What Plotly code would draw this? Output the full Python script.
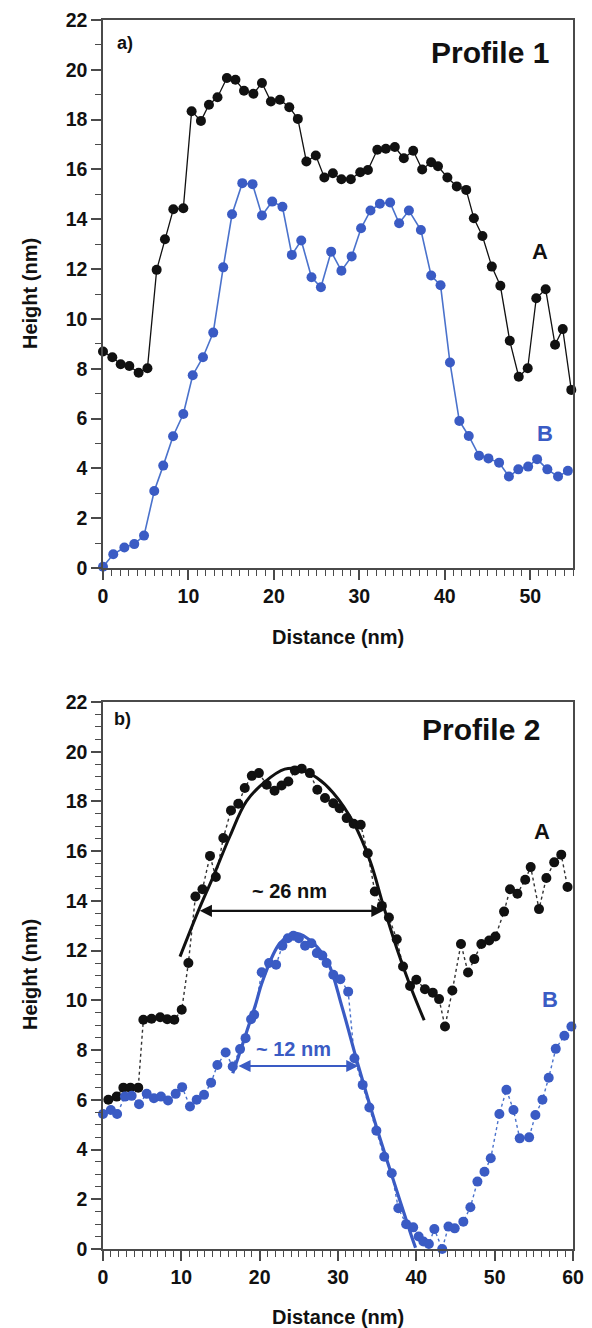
import plotly.graph_objects as go

# ---------------- data ----------------
# Profile 1
p1_a_x = [0, 1.09, 2.07, 3.08, 4.17, 5.2, 6.28, 7.25, 8.23, 9.4, 10.37, 11.46, 12.4, 13.4, 14.5,
          15.5, 16.5, 17.6, 18.6, 19.65, 20.7, 21.8, 22.8, 23.8, 24.9, 25.9, 26.9, 27.9, 29.0, 30.1,
          31.0, 32.1, 33.1, 34.15, 35.2, 36.3, 37.35, 38.4, 39.2, 40.3, 41.4, 42.5, 43.4, 44.4, 45.5,
          46.5, 47.6, 48.65, 49.7, 50.7, 51.8, 52.9, 53.8, 54.8]
p1_a_y = [8.69, 8.46, 8.18, 8.11, 7.84, 8.02, 11.97, 13.2, 14.4, 14.44, 18.34, 17.95, 18.6, 18.9, 19.67,
          19.6, 19.16, 19.04, 19.47, 18.73, 18.8, 18.5, 18.03, 16.32, 16.56, 15.68, 15.85, 15.61, 15.61, 15.89,
          15.98, 16.79, 16.83, 16.9, 16.45, 16.75, 16.0, 16.29, 16.13, 15.68, 15.32, 15.18, 14.04, 13.33, 12.1,
          11.33, 9.12, 7.68, 8.02, 10.83, 11.19, 8.96, 9.59, 7.15]
p1_b_x = [0, 1.2, 2.5, 3.66, 4.8, 6.0, 7.05, 8.2, 9.4, 10.5, 11.7, 12.9,
          14.07, 15.1, 16.3, 17.5, 18.6, 19.8, 21.0, 22.1, 23.2, 24.4, 25.5,
          26.7, 27.9, 29.1, 30.2, 31.3, 32.4, 33.6, 34.65, 35.8, 37.2, 38.4, 39.5,
          40.6, 41.7, 42.8, 44.0, 45.1, 46.35, 47.5, 48.6, 49.75, 50.8, 52.0, 53.25, 54.4]
p1_b_y = [0.05, 0.55, 0.82, 0.96, 1.3, 3.09, 4.11, 5.29, 6.18, 7.74, 8.46, 9.45,
          12.07, 14.2, 15.45, 15.41, 14.15, 14.71, 14.5, 12.57, 13.15, 11.67, 11.27,
          12.7, 11.93, 12.51, 13.64, 14.35, 14.62, 14.67, 13.84, 14.35, 13.57, 11.74, 11.35,
          8.25, 5.9, 5.3, 4.51, 4.4, 4.23, 3.67, 3.96, 4.07, 4.37, 3.96, 3.67, 3.9]

# Profile 2
p2_a_x = [0.68, 1.75, 2.6, 3.5, 4.5, 5.15, 6.2, 7.3, 8.2, 9.1, 10.05, 10.9, 11.8, 12.7, 13.66,
          14.4, 15.36, 16.34, 17.27, 18.1, 19.0, 19.9, 20.9, 21.9, 22.8, 23.66, 24.5, 25.37, 26.4, 27.36,
          28.34, 29.4, 30.2, 31.1, 32.0, 32.9, 33.8, 34.7, 35.6, 36.5, 37.5, 38.3, 39.2, 40.0, 41.1,
          42.1, 42.9, 43.66, 44.6, 45.7, 46.6, 47.4, 48.3, 49.3, 50.1, 51.2, 51.96, 52.9, 53.9, 54.6,
          55.66, 56.6, 57.6, 58.5, 59.3]
p2_a_y = [6.0, 6.13, 6.49, 6.49, 6.49, 9.22, 9.26, 9.32, 9.24, 9.22, 9.62, 11.5, 14.18, 14.47, 15.81,
          14.96, 16.53, 17.64, 17.91, 18.54, 19.03, 19.14, 18.67, 18.43, 18.64, 18.8, 19.25, 19.32, 19.14, 18.47,
          18.14, 17.93, 17.73, 17.33, 17.1, 17.06, 15.92, 14.38, 13.8, 13.33, 12.46, 11.36, 10.58, 10.83, 10.45,
          10.31, 10.05, 8.95, 10.4, 12.27, 11.12, 11.66, 12.27, 12.41, 12.57, 13.57, 14.47, 14.29, 14.85, 15.36,
          13.67, 14.92, 15.55, 15.86, 14.56]
p2_b_x = [0, 1.0, 1.8, 2.8, 3.66, 4.6, 5.58, 6.5, 7.4, 8.3, 9.28, 10.1, 11.1, 11.96, 12.9,
          13.8, 14.6, 15.66, 16.56, 17.5, 18.2, 18.9, 19.3, 20.26, 21.2, 22.1, 22.9, 23.6, 24.3, 25.0,
          25.8, 26.6, 27.3, 28.0, 28.55, 29.4, 30.3, 31.3, 32.1, 33.15, 34.0, 34.9, 35.9, 36.86, 37.7,
          38.7, 39.6, 40.3, 40.9, 41.6, 42.3, 43.3, 44.1, 44.9, 46.0, 46.9, 47.8, 48.7, 49.5, 50.6,
          51.5, 52.4, 53.2, 54.4, 55.2, 56.1, 56.9, 57.8, 58.9, 59.8]
p2_b_y = [5.43, 5.59, 5.43, 6.13, 6.16, 5.82, 6.24, 6.06, 6.13, 5.97, 6.24, 6.51, 5.73, 6.0, 6.2,
          6.69, 7.4, 7.9, 7.34, 8.04, 8.48, 9.24, 9.42, 11.13, 11.5, 11.43, 12.2, 12.5, 12.6, 12.5,
          12.2, 12.3, 11.9, 11.8, 11.5, 11.03, 10.85, 10.35, 7.67, 6.6, 5.69, 4.76, 3.71, 3.05, 1.64,
          1.0, 0.87, 0.5, 0.3, 0.2, 0.8, 0.0, 0.9, 0.83, 1.1, 1.68, 2.71, 3.11, 3.65, 5.43,
          6.4, 5.59, 4.45, 4.49, 5.39, 6.0, 6.89, 8.05, 8.58, 8.95]

# fitted envelope curves
fit_a_x = [9.83, 12.17, 14.1, 16.2, 18.3, 20.7, 23.2, 25.1, 27.3, 29.4, 32.0, 34.1, 35.8, 37.5, 39.2, 41.0]
fit_a_y = [11.76, 13.6, 15.0, 16.6, 18.0, 18.8, 19.3, 19.3, 18.95, 18.34, 17.13, 15.6, 13.8, 12.1, 10.6, 9.2]
fit_b_x = [16.56, 17.3, 18.35, 19.4, 20.4, 22.6, 24.7, 26.85, 28.75, 30.5, 32.6, 34.9, 37.06, 39.4, 39.9]
fit_b_y = [7.07, 7.74, 8.75, 9.75, 10.8, 12.3, 12.7, 12.3, 11.5, 9.75, 7.36, 4.92, 2.78, 0.5, 0.05]

# width arrows: [x_start, x_end], height, label
arrow_a = ([12.17, 35.8], 13.6, "~ 26 nm")
arrow_b = ([17.1, 32.6], 7.36, "~ 12 nm")

x_ticks_1 = [0, 10, 20, 30, 40, 50]
x_ticks_2 = [0, 10, 20, 30, 40, 50, 60]
y_ticks = [0, 2, 4, 6, 8, 10, 12, 14, 16, 18, 20, 22]

# ---------------- styling ----------------
W, H = 592, 1328
BLACK = "#111111"
BLUE = "#3a5bc4"
BLUE_LINE = "#4a72cc"
AXC = "#4a4a4a"
FONT = "Liberation Sans, Arial, sans-serif"


def px_x(p):
    return p / W


def px_y(p):
    return 1 - p / H


fig = go.Figure()

# Profile 1
fig.add_trace(go.Scatter(x=p1_a_x, y=p1_a_y, mode="lines+markers", xaxis="x", yaxis="y",
                         line=dict(color=BLACK, width=1.3),
                         marker=dict(color=BLACK, size=10), cliponaxis=False, showlegend=False))
fig.add_trace(go.Scatter(x=p1_b_x, y=p1_b_y, mode="lines+markers", xaxis="x", yaxis="y",
                         line=dict(color=BLUE_LINE, width=1.6),
                         marker=dict(color=BLUE, size=10), cliponaxis=False, showlegend=False))

# Profile 2
fig.add_trace(go.Scatter(x=p2_a_x, y=p2_a_y, mode="lines+markers", xaxis="x2", yaxis="y2",
                         line=dict(color="#333333", width=1.4, dash="dot"),
                         marker=dict(color=BLACK, size=10), cliponaxis=False, showlegend=False))
fig.add_trace(go.Scatter(x=p2_b_x, y=p2_b_y, mode="lines+markers", xaxis="x2", yaxis="y2",
                         line=dict(color=BLUE_LINE, width=1.4, dash="dot"),
                         marker=dict(color=BLUE, size=10), cliponaxis=False, showlegend=False))
fig.add_trace(go.Scatter(x=fit_a_x, y=fit_a_y, mode="lines", xaxis="x2", yaxis="y2",
                         line=dict(color=BLACK, width=3, shape="spline"), showlegend=False))
fig.add_trace(go.Scatter(x=fit_b_x, y=fit_b_y, mode="lines", xaxis="x2", yaxis="y2",
                         line=dict(color=BLUE, width=3.2, shape="spline"), showlegend=False))

xdom = [px_x(103), px_x(573)]
top_dom = [px_y(568), px_y(20)]
bot_dom = [px_y(1249), px_y(702)]

tickfont = dict(family=FONT, size=19.5, color=BLACK, weight="bold")

common_x = dict(showgrid=False, zeroline=False, showline=True, linecolor=AXC, linewidth=1.5,
                mirror=True, ticks="outside", ticklen=10, tickwidth=1.5, tickcolor=AXC,
                tickfont=tickfont, automargin=False, domain=xdom,
                minor=dict(dtick=1, ticklen=6, tickwidth=1, tickcolor=AXC, ticks="outside"))
common_y = dict(showgrid=False, zeroline=False, showline=True, linecolor=AXC, linewidth=1.5,
                mirror=True, ticks="outside", ticklen=10, tickwidth=1.5, tickcolor=AXC,
                tickfont=tickfont, automargin=False, range=[0, 22], tickvals=y_ticks)

fig.update_layout(
    width=W, height=H, template="none",
    paper_bgcolor="white", plot_bgcolor="white",
    margin=dict(l=0, r=0, t=0, b=0),
    xaxis=dict(common_x, range=[0, 55], tickvals=x_ticks_1, anchor="y"),
    yaxis=dict(common_y, domain=top_dom, anchor="x",
               minor=dict(dtick=1, ticklen=6, tickwidth=1, tickcolor=AXC, ticks="outside")),
    xaxis2=dict(common_x, range=[0, 60], tickvals=x_ticks_2, anchor="y2"),
    yaxis2=dict(common_y, domain=bot_dom, anchor="x2",
                minor=dict(dtick=0.5, ticklen=6, tickwidth=1, tickcolor=AXC, ticks="outside")),
)

ann = []


def label(text, x, y, size, color=BLACK, xref="paper", yref="paper", angle=0):
    ann.append(dict(text=text, x=x, y=y, xref=xref, yref=yref, showarrow=False,
                    textangle=angle, xanchor="center", yanchor="middle",
                    font=dict(family=FONT, size=size, color=color, weight="bold")))


# panel texts
label("a)", px_x(125), px_y(43), 18)
label("Profile 1", px_x(490), px_y(52), 30)
label("A", 51.1, 12.7, 22, xref="x", yref="y")
label("B", 51.7, 5.4, 22, color=BLUE, xref="x", yref="y")

label("b)", px_x(122), px_y(719), 18)
label("Profile 2", px_x(481), px_y(730), 30)
label("A", 56.0, 16.8, 22, xref="x2", yref="y2")
label("B", 57.1, 10.05, 22, color=BLUE, xref="x2", yref="y2")

# axis titles
label("Height (nm)", px_x(30), px_y(294), 20, angle=-90)
label("Distance (nm)", px_x(338), px_y(637), 20)
label("Height (nm)", px_x(30), px_y(975), 20, angle=-90)
label("Distance (nm)", px_x(338), px_y(1317), 20)

# width arrows
for (xs, yv, txt), col in ((arrow_a, BLACK), (arrow_b, BLUE)):
    ann.append(dict(x=xs[1], y=yv, ax=xs[0], ay=yv, xref="x2", yref="y2", axref="x2", ayref="y2",
                    showarrow=True, arrowhead=2, startarrowhead=2, arrowside="end+start",
                    arrowsize=1.1, arrowwidth=2.2, arrowcolor=col, text=""))
    label(txt, (xs[0] + xs[1]) / 2 - 0.2 if col == BLACK else 24.3,
          yv + (0.78 if col == BLACK else 0.69), 20, color=col, xref="x2", yref="y2")

fig.update_layout(annotations=ann)

fig.write_html("out.html", config={"displayModeBar": False},
               post_script="document.body.style.margin='0';document.body.style.overflow='hidden';")
